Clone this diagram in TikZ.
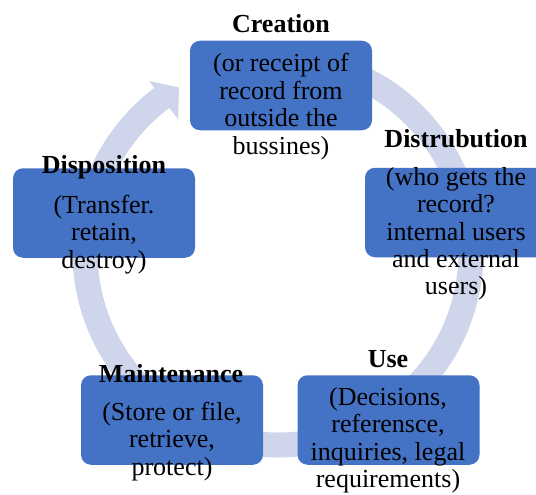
\documentclass[tikz,border=0pt]{standalone}
\usepackage{fontspec}
\setmainfont{Liberation Serif}
\definecolor{boxblue}{HTML}{4472C4}
\definecolor{arcfill}{HTML}{CFD5EA}
\newcommand\blk[1]{\vtop{\baselineskip=27.5pt\halign{\hfil##\hfil\cr#1\crcr}}}
\begin{document}
\begin{tikzpicture}[x=1pt,y=-1pt,
  box/.style={draw=none, fill=boxblue, rounded corners=10pt, minimum width=182pt, minimum height=89.5pt, inner sep=0pt},
  ttl/.style={font=\fontsize{26}{27.5}\selectfont\bfseries, anchor=base, inner sep=0pt, text=black},
  txt/.style={font=\fontsize{26}{27.5}\selectfont, anchor=base, inner sep=0pt, text=black}]
\useasboundingbox (0,0) rectangle (536,495);
\begin{scope}[shift={(278,252)}, yscale=-1]
  \fill[arcfill] (80:205.5) arc[start angle=80, end angle=-233, radius=205.5]
    -- (-233:214) -- (-239:192) -- (-233:166) -- (-233:180.5)
    arc[start angle=-233, end angle=80, radius=180.5] -- cycle;
\end{scope}
\node[box] (creation) at (281,85.5) {};
\node[box] (distribution) at (456,212.5) {};
\node[box] (disposition) at (104,213) {};
\node[box] (maintenance) at (172,420) {};
\node[box] (use) at (388.5,420) {};
\node[ttl] (creationT) at (281,33) {Creation};
\node[txt] (creationB) at (281,72) {\blk{(or receipt of\cr record from\cr outside the\cr bussines)}};
\node[ttl] (distributionT) at (456,147) {Distrubution};
\node[txt] (distributionB) at (456,185) {\blk{(who gets the\cr record?\cr internal users\cr and external\cr users)}};
\node[ttl] (dispositionT) at (104,173) {Disposition};
\node[txt] (dispositionB) at (104,213) {\blk{(Transfer.\cr retain,\cr destroy)}};
\node[ttl] (maintenanceT) at (171,382) {Maintenance};
\node[txt] (maintenanceB) at (172,420) {\blk{(Store or file,\cr retrieve,\cr protect)}};
\node[ttl] (useT) at (388,367) {Use};
\node[txt] (useB) at (388,405) {\blk{(Decisions,\cr referensce,\cr inquiries, legal\cr requirements)}};
\end{tikzpicture}
\end{document}
